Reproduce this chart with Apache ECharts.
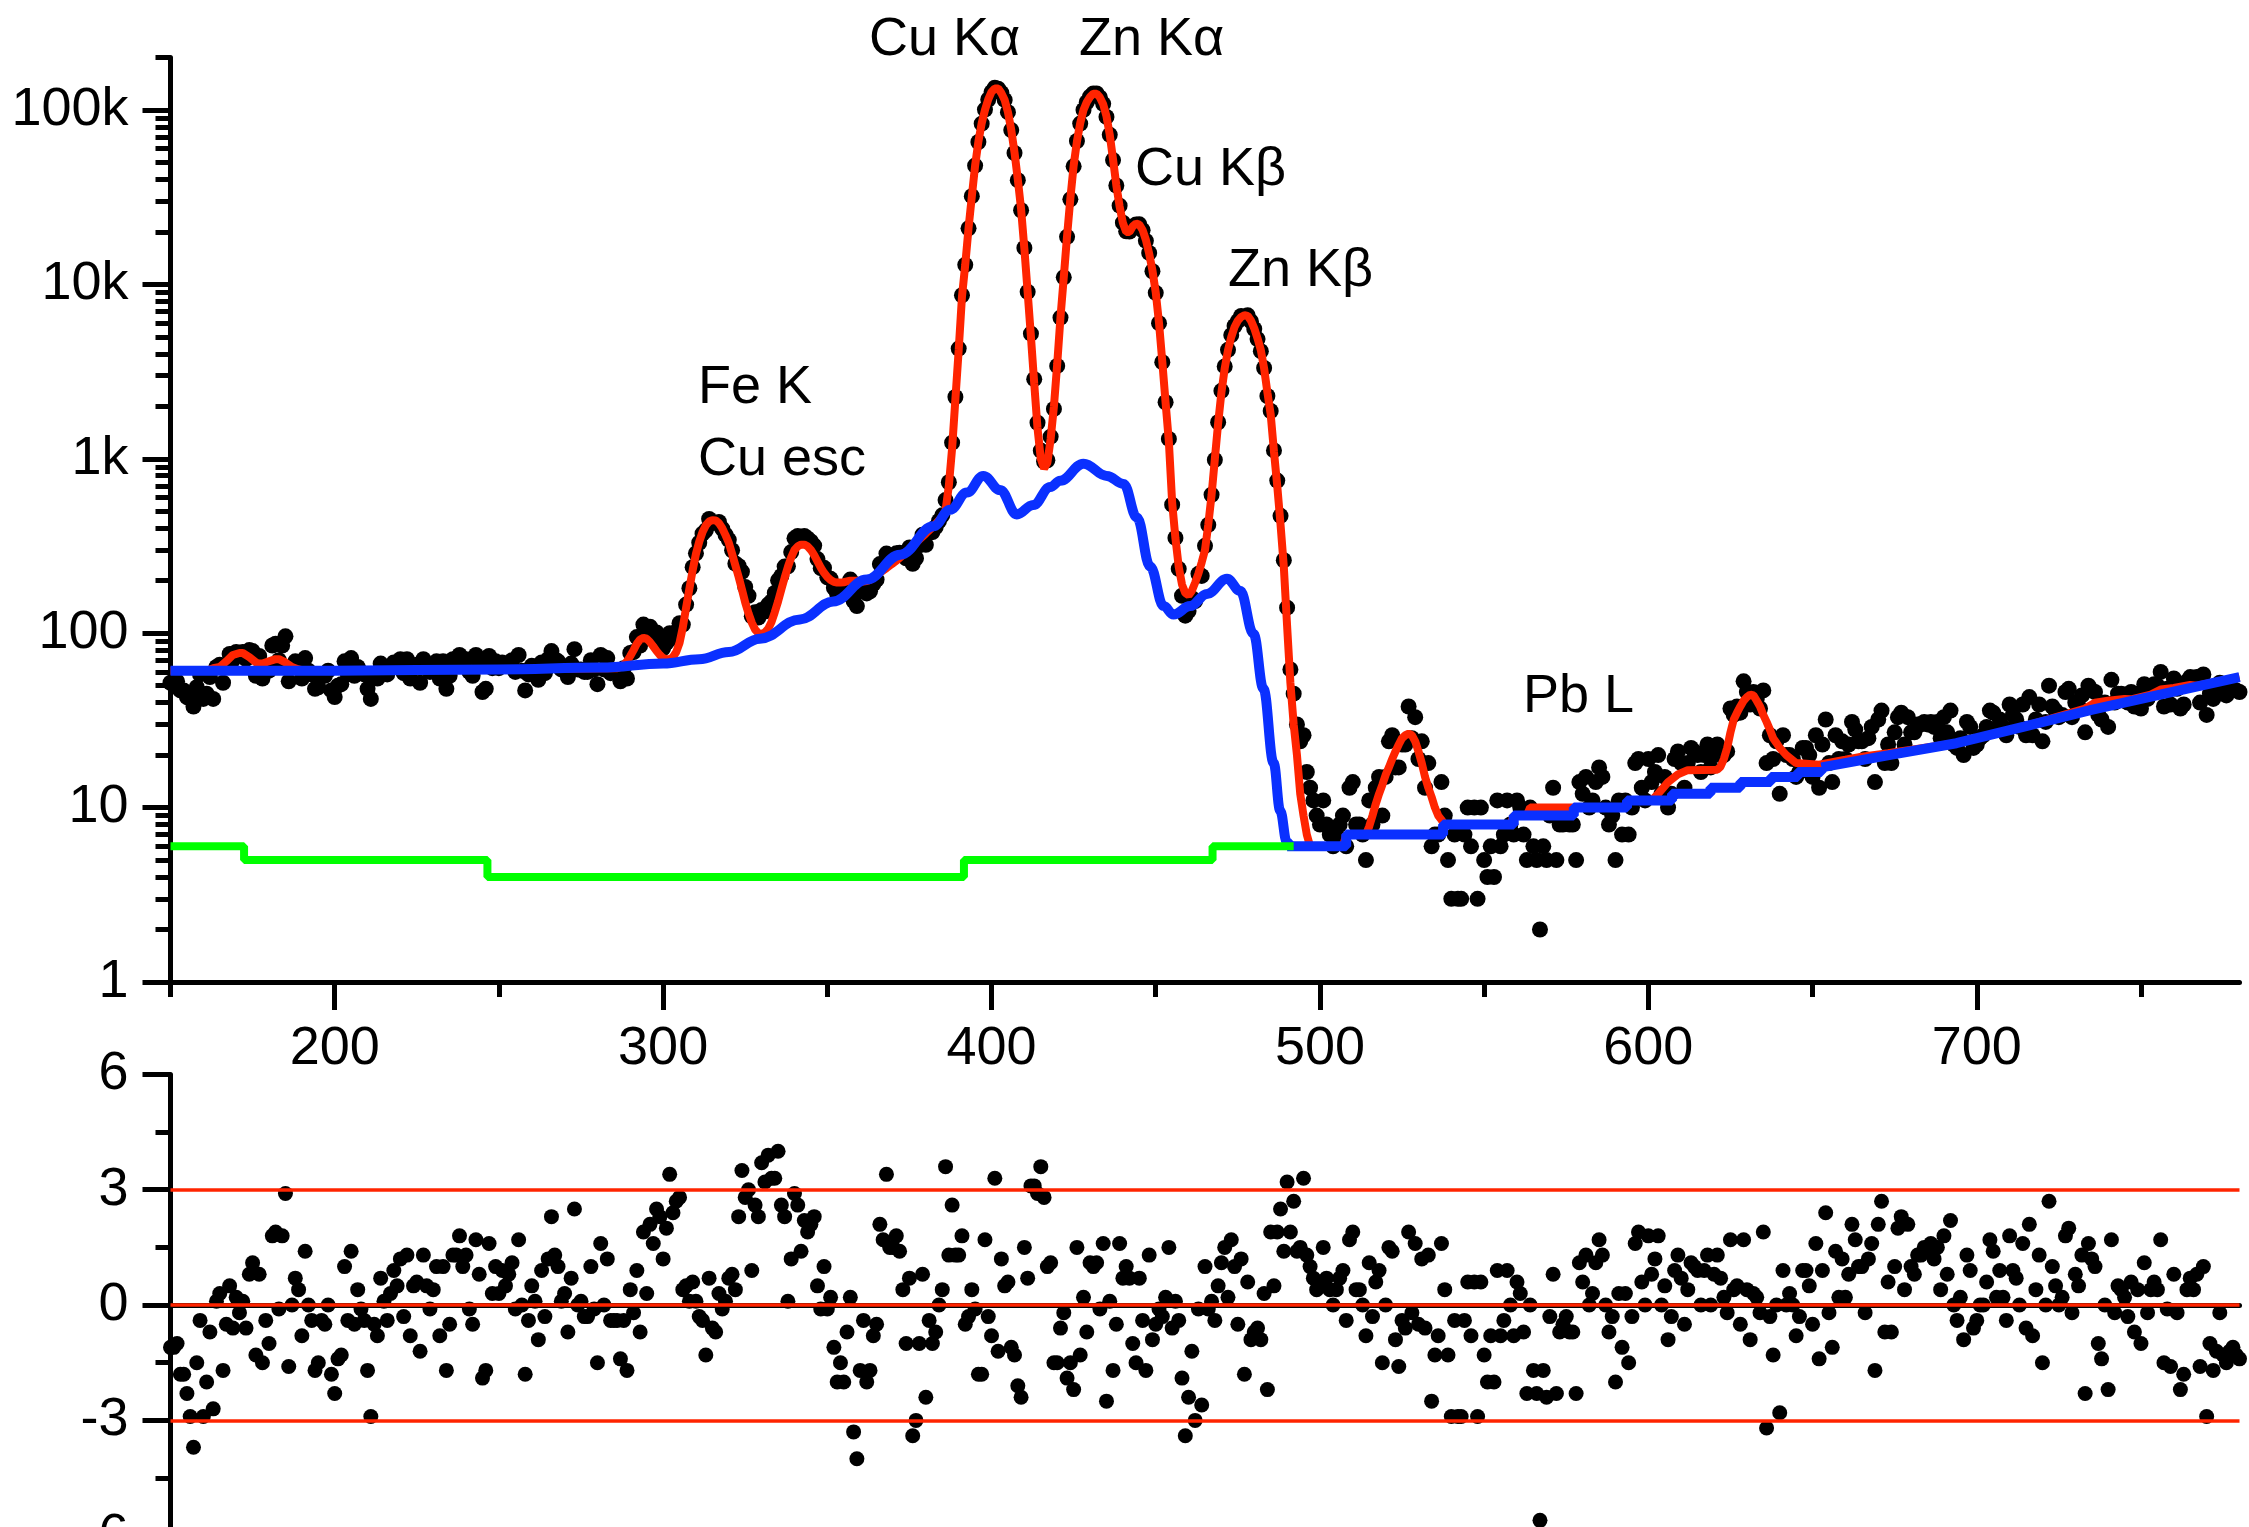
<!DOCTYPE html>
<html><head><meta charset="utf-8">
<script src="https://cdn.jsdelivr.net/npm/echarts@6/dist/echarts.min.js"></script>
<style>html,body{margin:0;padding:0;background:#fff}#c{width:2249px;height:1527px}</style>
</head><body><div id="c"></div>
<script>
// ---------------- DATA ----------------
const channelStart = 150;           // first channel
// measured counts, one per channel 150..780
const counts = [
52,52,53,47,47,43,42,38,49,58,42,45,56,42,64,66,52,65,76,70,
78,75,78,71,80,79,57,74,55,65,61,85,87,70,85,96,53,64,69,65,
55,72,61,58,48,49,58,57,61,47,43,50,51,69,58,72,57,64,60,58,
48,42,57,55,67,62,58,63,68,65,71,59,71,55,65,66,52,71,65,60,
64,69,55,69,48,57,71,71,75,69,71,60,57,75,67,46,48,74,63,69,
63,68,65,67,70,60,75,61,47,58,65,62,54,68,59,71,79,71,69,62,
63,56,67,81,62,62,60,60,70,62,51,75,62,72,59,
60,60,53,63,55,77,78,95,85,112,96,109,99,101,95,82,88,100,94,102,
114,112,146,181,239,287,330,372,389,452,432,428,434,398,367,343,299,251,243,225,
184,164,125,132,123,136,133,146,152,170,201,213,241,242,292,350,361,347,361,349,
336,318,266,236,237,209,205,182,167,174,168,188,203,153,143,175,192,169,174,191,
203,249,252,286,265,274,287,289,283,269,310,250,269,319,367,321,375,380,406,440,
474,580,734,1238,2261,4284,8666,12943,
20960,32070,47980,65540,83480,100540,114900,126720,134200,132560,
125420,114170,97190,76700,56690,39580,26610,16190,9070,5220,
2860,1610,1115,964,981,1340,1933,
3410,6450,10980,18740,30740,47520,66390,83620,100060,110770,
119380,124350,124390,117970,108530,91240,72030,51610,36900,28270,
22600,20140,20100,21350,22080,22100,20440,17770,15160,11900,
8950,5990,3580,2110,1300,546,352,234,164,126,
134,159,153,219,213,317,418,622,987,1620,
2454,3386,4213,5120,5775,6160,6597,6500,6650,6130,
5550,4860,4140,3317,2292,1880,1117,750,471,262,
140,62,45,30,24,26,16,13,11,9,
8,11,8,7,6,7,8,9,6,13,14,8,8,7,5,11,8,13,15,9,
15,24,26,17,17,23,23,38,25,33,19,24,13,18,6,7,7,14,9,5,
3,7,3,3,7,10,6,10,3,10,5,4,6,
4,11,6,7,11,8,7,11,10,7,5,10,6,5,2,6,5,9,13,5,8,8,
9,8,8,5,14,12,15,10,11,14,17,15,10,8,9,5,11,7,11,7,
10,18,19,13,11,19,14,16,20,12,15,10,12,19,21,18,13,18,22,21,20,
16,20,23,17,20,23,20,20,21,37,34,38,35,53,46,39,46,42,37,47,18,
26,19,24,12,26,20,20,19,15,16,22,22,20,15,26,13,23,32,18,14,
26,19,24,19,23,31,28,24,24,19,25,29,14,32,36,18,23,18,27,33,35,
23,33,27,27,30,30,31,30,31,29,
31,25,33,27,36,23,22,25,20,31,29,22,23,25,26,29,36,35,28,32,
29,26,39,34,32,29,39,26,43,26,32,39,24,31,50,38,36,33,34,46,
48,33,40,38,44,27,50,47,46,34,32,40,29,54,40,45,45,44,40,46,
38,45,37,51,42,49,51,50,60,38,48,39,55,48,37,39,53,56,54,56,
40,58,34,45,42,45,52,45,44,47,48,47,46
];
// residuals, one per channel 150..780
const residuals = [
-1.1,-1.1,-1.0,-1.8,-1.8,-2.3,-2.9,-3.7,-1.5,-0.4,-2.9,-2.0,-0.7,-2.7,0.1,0.3,-1.7,-0.5,0.5,-0.6,
0.2,-0.2,0.1,-0.6,0.8,1.1,-1.3,0.8,-1.5,-0.4,-1.0,1.8,1.9,-0.1,1.8,2.9,-1.6,0.0,0.7,0.4,
-0.8,1.4,0.0,-0.4,-1.7,-1.5,-0.4,-0.5,0.0,-1.8,-2.3,-1.4,-1.3,1.0,-0.4,1.4,-0.5,0.4,-0.1,-0.4,
-1.7,-2.9,-0.5,-0.8,0.7,0.1,-0.4,0.3,0.9,0.5,1.2,-0.3,1.3,-0.8,0.5,0.6,-1.2,1.3,0.5,-0.1,
0.4,1.0,-0.8,1.0,-1.7,-0.5,1.3,1.3,1.8,1.0,1.3,-0.1,-0.5,1.7,0.8,-1.9,-1.7,1.6,0.3,1.0,
0.3,0.9,0.5,0.8,1.1,-0.1,1.7,0.0,-1.8,-0.4,0.5,0.1,-0.9,0.9,-0.3,1.2,2.3,1.3,1.0,0.1,
0.3,-0.7,0.7,2.5,0.0,0.1,-0.3,-0.3,1.0,-0.1,-1.5,1.6,0.0,1.2,-0.4,
-0.4,-0.4,-1.4,-0.4,-1.7,0.4,-0.2,0.9,-0.7,1.9,0.3,2.1,1.6,2.5,2.3,1.2,2.0,3.4,2.4,2.7,
2.8,0.4,0.5,0.1,0.6,0.1,-0.3,-0.4,-1.3,0.7,-0.6,-0.7,0.3,-0.1,0.1,0.7,0.8,0.4,2.3,3.5,
2.8,3.0,0.9,2.6,2.3,3.7,3.2,3.9,3.3,3.3,4.0,2.6,2.3,0.1,1.2,2.9,2.6,1.4,2.2,1.9,
2.1,2.3,0.5,-0.1,1.0,-0.1,0.2,-1.1,-2.0,-1.5,-2.0,-0.7,0.2,-3.3,-4.0,-1.7,-0.4,-2.0,-1.7,-0.8,
-0.5,2.1,1.7,3.4,1.5,1.5,1.8,1.4,0.4,-1.0,0.7,-3.4,-3.0,-1.0,0.8,-2.4,-0.4,-1.0,-0.7,0.0,
0.4,3.6,1.3,2.6,1.3,1.3,1.8,-0.5,-0.3,0.4,-0.1,-1.8,-1.8,1.7,-0.3,-0.8,3.3,-1.2,1.2,0.5,
0.6,-1.1,-1.3,-2.1,-2.4,1.5,0.7,3.1,3.1,2.9,3.6,2.8,1.0,1.1,-1.5,
-1.5,-0.6,-0.2,-1.9,-1.5,-2.2,1.5,-1.3,0.2,-0.7,1.1,1.0,1.1,-0.1,1.6,-2.5,0.1,-1.7,-0.5,1.6,
0.7,1.0,0.7,-1.0,-1.5,0.7,-0.4,-1.7,1.3,-0.9,-0.5,-0.1,-0.3,0.2,1.5,-0.6,0.1,-0.4,-1.9,-3.4,
-2.4,-1.2,-3.0,-0.1,-2.6,1.0,-0.1,0.1,-0.4,0.5,1.1,1.5,0.2,1.7,1.0,-0.5,1.2,-1.8,0.6,-0.9,
-0.7,-0.6,-0.9,0.3,-2.2,1.9,0.5,1.9,2.5,1.4,3.2,1.9,2.7,1.4,1.5,3.3,1.3,1.0,0.7,0.4,
0.6,1.5,0.7,0.4,0.0,0.4,0.7,0.9,-0.4,1.7,1.9,0.4,0.4,0.0,-0.8,1.1,-0.3,0.6,0.9,-1.5,
0.0,1.5,1.4,-0.9,-1.6,-0.4,-0.6,1.9,-0.2,1.6,-0.5,1.2,-0.6,1.3,-2.5,-1.3,-0.8,1.6,0.4,-1.3,
-2.9,-0.4,-2.9,-2.9,-0.4,0.6,-0.8,0.6,-2.9,0.6,-1.3,-2.0,-0.8,
-2.0,0.9,-0.8,-0.4,0.9,0.0,-0.8,0.6,0.3,-0.7,-2.3,0.0,-1.7,-2.3,-5.6,-1.7,-2.4,-0.3,0.8,-2.3,-0.7,-0.5,
-0.3,-0.7,-0.7,-2.3,1.1,0.6,1.3,0.0,0.3,1.1,1.7,1.3,0.0,-0.7,-0.3,-2.0,0.3,-1.1,0.3,-1.5,
-0.3,1.6,1.9,0.6,0.0,1.8,0.8,1.2,1.8,0.0,0.5,-0.9,-0.3,0.9,1.3,0.7,-0.5,0.4,1.1,1.0,0.9,
0.0,0.9,1.3,0.0,0.8,1.3,0.7,0.2,-0.2,1.7,0.4,0.5,-0.5,1.7,0.4,-0.9,0.3,0.2,-0.2,1.9,-3.2,
-0.3,-1.3,0.0,-2.8,0.9,0.0,0.3,0.0,-0.8,-0.3,0.9,0.9,0.5,-0.5,1.6,-1.4,0.9,2.4,-0.2,-1.1,
1.4,0.2,1.2,0.2,0.8,2.1,1.7,1.0,1.0,-0.2,1.2,1.6,-1.7,2.1,2.7,-0.7,0.6,-0.7,1.0,2.0,2.3,
0.4,2.1,1.0,0.8,1.3,1.3,1.5,1.4,1.6,1.2,
1.5,0.4,1.8,0.8,2.2,0.0,-0.4,0.2,-0.9,1.3,0.9,-0.6,-0.4,0.0,0.0,0.6,1.7,1.4,0.2,0.9,
0.2,-0.4,1.8,0.9,0.7,0.0,1.6,-0.6,2.1,-0.8,0.4,1.3,-1.5,0.0,2.7,1.0,0.5,0.0,0.2,1.8,
2.0,-0.2,0.8,0.5,1.3,-2.3,1.6,1.2,1.0,-1.0,-1.4,0.0,-2.2,1.7,-0.2,0.5,0.4,0.2,-0.3,0.6,
-0.7,0.4,-1.0,1.1,-0.2,0.4,0.6,0.4,1.7,-1.5,-0.1,-1.6,0.8,-0.2,-2.2,-1.8,0.4,0.7,0.4,0.8,
-1.6,1.0,-2.9,-1.0,-1.7,-1.2,-0.2,-1.3,-1.5,-1.2,-1.1,-1.3,-1.4
];
// fit (red): low-energy key points
const fitLowX = [150,161,163,165,167,169,171,172,174,176,177,178,180,182,183,185,187,189,191,240,284];
const fitLowY = [61,61,63,64,69,75,77,77,73,68,67,67,69,71,71,68,64,62,61,62,63];
// fit (red): one value per channel 285..499
const fitPeakStart = 285;
const fitPeakY = [
63,63,64,66,69,74,80,87,92,94, 93,89,84,79,75,72,71,71,73,78,
88,108,140,180,230,285,335,380,415,437, 445,443,428,400,365,330,285,245,210,178,
150,130,115,105,100,99,101,106,116,132, 152,178,208,240,272,300,315,322,322,315,
300,280,258,238,222,210,202,197,195,195, 196,198,200,200,200,199,198,199,202,208,
215,222,229,236,244,252,260,270,280,292, 304,317,330,344,358,373,389,406,424,444,
468,505,700,1150,2200,4200,8500,13000,21000,32000,
48000,66000,84000,100000,115000,127000,133000,133000,125000,114000,
97000,77000,57000,40000,27000,16000,9000,5000,2700,1500,
1000,880,950,1300,2000,3500,6500,11000,19000,31000,
48000,66000,84000,100000,111000,119000,124000,124000,118000,108000,
92000,72000,52000,37000,28000,22500,20000,20000,21500,22300,
22000,20500,18000,15000,12000,9000,6000,3600,2100,1250,
560,350,240,190,170,165,175,195,220,255,
300,420,620,1000,1600,2400,3300,4200,5000,5700,
6200,6500,6650,6600,6200,5600,4900,4200,3300,2400,
1800,1100,700,420,240,110,52,30,20,12,
9,7,6,6,6
];
// fit (red): high-energy key points
const fitHighX = [500,507,508,514,515,516,517,518,519,520,521,522,523,524,525,526,527,528,529,530,531,532,533,534,535,536,537,538,558,559,563,564,593,594,601,603,606,609,612,621,622,623,624,625,626,627,628,629,630,631,632,633,634,635,636,637,638,639,640,642,645,652,660,665,673,694,714,733,736,740,745,747,753,756,760,765,767,780];
const fitHighY = [6,6,7,7,7.8,9,10.5,12,13.5,15.4,17,19,21,23,25,26,26.5,26,24,21,18,15,13,11.5,10,9,8.5,8,8,9,9,10,10,11,11,12,14,15.5,16.4,16.5,17.2,19,22,27,32,35,38,41,43,44.5,44,41,38,34,31,28,25,23.5,22,20,18,17.6,18.8,19.6,20.5,23.5,29,37,40,41,42,41.8,44.5,47.5,48.5,50.5,50,56];
// background (blue)
const bgSmoothX = [150,200,250,281,300,311,320,329.5,341.7,351.8,362,372.2,382.3,387.4,392.5,397.5,402.6,407.7,412.7,417.9,420.9,428,435.1,440.2,444.3,448.3,452.4,455.4,460.5,465.6,471.7,475.7,479.8,482.8,485.9,487.9,489.9,491];
const bgSmoothY = [61,61,62,63.5,67,71,78,93,120,152,203,282,410,510,640,798,662,480,543,689,748,937,798,718,460,241,143,128,143,168,205,175,99,48,18,9.6,6.35,6];
const bgStepX = [490,508,537.5,559,577.3,593.5,607.2,618.9,628,637.3,645.5,652.7];
const bgStepY = [6,7,8,9,10,11,12,13,14,15,16,17];
const bgTailX = [652.7,673.3,693.8,714.4,734.9,755.5,780];
const bgTailY = [17,20,23.4,29.1,36.3,44.3,56];
// escape / pile-up component (green)
const escX = [150,172.4,246.5,391.6,467.3,492];
const escY = [6,5,4,5,6,6];
// axes
const xTickValues = [200,300,400,500,600,700];
const xMinorTickValues = [150,250,350,450,550,650,750];
const yTickValues = [1,10,100,1000,10000,100000];
const yTickLabels = ['1','10','100','1k','10k','100k'];
const yMax = 200000;
const resLimits = [3,0,-3];
const peakNames = ['Cu K\u03b1','Zn K\u03b1','Cu K\u03b2','Zn K\u03b2','Fe K','Cu esc','Pb L'];

// ---------------- LAYOUT ----------------
const FONT = "'Liberation Sans', Arial, sans-serif";
const FS = 54;
const RED = '#ff2400', BLUE = '#0a30ff', GREEN = '#00ff00';
const labelPos = [[869,40],[1079,40],[1135,170],[1228,271],[698,388],[698,460],[1523,697]];

const zip = (xs, ys) => xs.map((x, i) => [x, ys[i]]);
const countData = counts.map((v, i) => [channelStart + i, v]);
const resData = residuals.map((v, i) => [channelStart + i, v]);
const fitData = zip(fitLowX, fitLowY)
  .concat(fitPeakY.map((v, i) => [fitPeakStart + i, v]))
  .concat(zip(fitHighX, fitHighY));

const log10 = Math.log10;
const yMajorLog = yTickValues.map(log10);
const yMinorLog = [];
for (let d = 1; d <= 100000; d *= 10) for (let m = 2; m <= 9; m++) if (m * d <= yMax) yMinorLog.push(log10(m * d));
const labelMap = {}; yTickValues.forEach((v, i) => labelMap[log10(v).toFixed(3)] = yTickLabels[i]);

const axisLine = { show: true, lineStyle: { color: '#000', width: 5 } };
const tickStyle = { color: '#000', width: 5 };
const G0 = { left: 170.5, width: 2069, top: 57.5, height: 924.5, outerBoundsMode: 'none', containLabel: false };
const G1 = { left: 170.5, width: 2069, top: 1074.4, height: 461.3, outerBoundsMode: 'none', containLabel: false };

const chart = echarts.init(document.getElementById('c'), null, { renderer: 'canvas' });
chart.setOption({
  animation: false,
  backgroundColor: '#fff',
  grid: [G0, G1],
  xAxis: [
    { gridIndex: 0, type: 'value', min: 150, max: 780, position: 'bottom', axisLine,
      axisTick: { show: true, customValues: xTickValues, length: 28, lineStyle: tickStyle },
      axisLabel: { show: true, customValues: xTickValues, fontSize: FS, fontFamily: FONT, color: '#000', margin: 40 },
      splitLine: { show: false } },
    { gridIndex: 0, type: 'value', min: 150, max: 780, position: 'bottom', axisLine: { show: false },
      axisTick: { show: true, customValues: xMinorTickValues, length: 15, lineStyle: tickStyle },
      axisLabel: { show: false }, splitLine: { show: false } },
    { gridIndex: 1, type: 'value', min: 150, max: 780, position: 'bottom', axisLine,
      axisTick: { show: false }, axisLabel: { show: false }, splitLine: { show: false } }
  ],
  yAxis: [
    { gridIndex: 0, type: 'log', logBase: 10, min: 1, max: yMax, position: 'left', axisLine,
      axisTick: { show: false }, axisLabel: { show: false }, splitLine: { show: false } },
    { gridIndex: 0, type: 'value', min: 0, max: log10(yMax), position: 'left', axisLine: { show: false },
      axisTick: { show: true, customValues: yMajorLog, length: 28, lineStyle: tickStyle },
      axisLabel: { show: true, customValues: yMajorLog, fontSize: FS, fontFamily: FONT, color: '#000', margin: 42,
        formatter: v => labelMap[Number(v).toFixed(3)] || '' },
      splitLine: { show: false } },
    { gridIndex: 0, type: 'value', min: 0, max: log10(yMax), position: 'left', axisLine: { show: false },
      axisTick: { show: true, customValues: yMinorLog, length: 15, lineStyle: tickStyle },
      axisLabel: { show: false }, splitLine: { show: false } },
    { gridIndex: 1, type: 'value', min: -6, max: 6, interval: 3, position: 'left', axisLine,
      axisTick: { show: true, length: 28, lineStyle: tickStyle },
      minorTick: { show: true, splitNumber: 2, length: 15, lineStyle: tickStyle },
      axisLabel: { show: true, fontSize: FS, fontFamily: FONT, color: '#000', margin: 42 },
      splitLine: { show: false } }
  ],
  series: [
    { type: 'scatter', xAxisIndex: 0, yAxisIndex: 0, data: countData, symbolSize: 16,
      itemStyle: { color: '#000', opacity: 1 }, clip: false, z: 2, silent: true },
    { type: 'line', xAxisIndex: 0, yAxisIndex: 0, data: fitData, showSymbol: false,
      lineStyle: { color: RED, width: 8 }, z: 3, silent: true },
    { type: 'line', xAxisIndex: 0, yAxisIndex: 0, data: zip(bgSmoothX, bgSmoothY), showSymbol: false,
      smooth: 0.4, smoothMonotone: 'x', lineStyle: { color: BLUE, width: 10 }, z: 4, silent: true },
    { type: 'line', xAxisIndex: 0, yAxisIndex: 0, data: zip(bgStepX, bgStepY), showSymbol: false, step: 'end',
      lineStyle: { color: BLUE, width: 10 }, z: 4, silent: true },
    { type: 'line', xAxisIndex: 0, yAxisIndex: 0, data: zip(bgTailX, bgTailY), showSymbol: false,
      lineStyle: { color: BLUE, width: 10 }, z: 4, silent: true },
    { type: 'line', xAxisIndex: 0, yAxisIndex: 0, data: zip(escX, escY), showSymbol: false, step: 'end',
      lineStyle: { color: GREEN, width: 8 }, z: 4, silent: true },
    { type: 'line', xAxisIndex: 2, yAxisIndex: 3, data: [], z: 1, silent: true,
      markLine: { silent: true, symbol: ['none', 'none'], label: { show: false },
        lineStyle: { color: RED, width: 3.5, type: 'solid' },
        data: resLimits.map(v => ({ yAxis: v })) } },
    { type: 'scatter', xAxisIndex: 2, yAxisIndex: 3, data: resData, symbolSize: 15,
      itemStyle: { color: '#000', opacity: 1 }, clip: false, z: 2, silent: true }
  ],
  graphic: peakNames.map((t, i) => ({
    type: 'text', x: labelPos[i][0], y: labelPos[i][1], z: 10,
    style: { text: t, fontSize: FS, fontFamily: FONT, fill: '#000',
      align: 'left', verticalAlign: 'middle', textAlign: 'left', textVerticalAlign: 'middle' }
  }))
});
</script></body></html>
